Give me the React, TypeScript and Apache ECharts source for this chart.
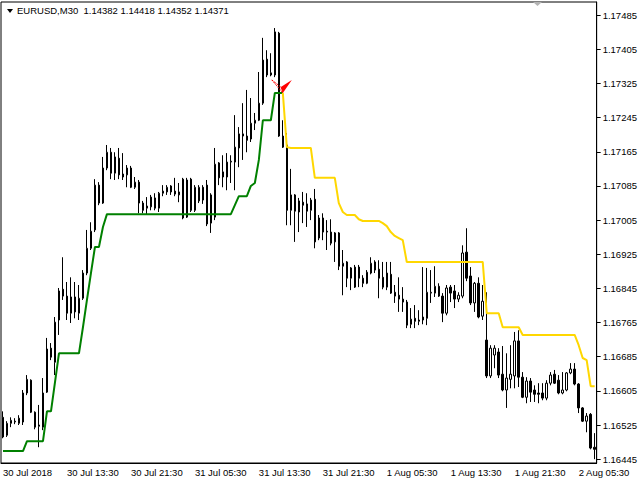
import React, { useEffect, useRef } from "react";
import * as echarts from "echarts";

// EURUSD M30, 30 Jul 2018 05:30 onward, one value per bar
const opens = [
  1.16543, 1.16501, 1.16529, 1.16532, 1.16529, 1.16532, 1.166, 1.1663, 1.16555, 1.16522,
  1.1652, 1.16602, 1.16705, 1.16672, 1.16771, 1.16843, 1.16827, 1.16787, 1.16825, 1.16787,
  1.16822, 1.16881, 1.16939, 1.16982, 1.17087, 1.17045, 1.17127, 1.17164, 1.17115, 1.1715,
  1.17113, 1.17111, 1.17127, 1.17082, 1.17094, 1.17045, 1.17033, 1.17036, 1.17057, 1.17033,
  1.17068, 1.17071, 1.17085, 1.17073, 1.17064, 1.17101, 1.17012, 1.17101, 1.17028, 1.1705,
  1.17082, 1.17087, 1.16998, 1.17012, 1.17139, 1.17106, 1.17106, 1.17141, 1.17141, 1.17174,
  1.17207, 1.17202, 1.17195, 1.17232, 1.17239, 1.17279, 1.17382, 1.17345, 1.17345, 1.17443,
  1.17202, 1.17181, 1.17028, 1.17064, 1.17024, 1.17047, 1.17043, 1.17028, 1.17054, 1.16963,
  1.1701, 1.16979, 1.16977, 1.16954, 1.16975, 1.16897, 1.16907, 1.16869, 1.16848, 1.16895,
  1.16869, 1.16857, 1.16881, 1.16907, 1.1689, 1.16871, 1.16848, 1.16878, 1.16836, 1.16829,
  1.1682, 1.16813, 1.16761, 1.16775, 1.16768, 1.16771, 1.16775, 1.16834, 1.16834, 1.1685,
  1.16827, 1.16787, 1.16848, 1.16839, 1.1682, 1.16827, 1.1693, 1.16874, 1.16811, 1.16857,
  1.1678, 1.16724, 1.1664, 1.16689, 1.16696, 1.16644, 1.16607, 1.16632, 1.1664, 1.16722,
  1.16637, 1.1659, 1.16628, 1.16607, 1.166, 1.166, 1.16588, 1.16623, 1.16644, 1.1663,
  1.166, 1.16607, 1.16647, 1.16656, 1.16621, 1.16565, 1.16534, 1.1655, 1.16473,
];

const closes = [
  1.16497, 1.16529, 1.16536, 1.16534, 1.16541, 1.166, 1.16632, 1.16555, 1.1652, 1.16525,
  1.166, 1.16703, 1.16684, 1.16766, 1.16839, 1.16827, 1.16787, 1.16825, 1.1679, 1.16822,
  1.16881, 1.16939, 1.16979, 1.17087, 1.17045, 1.17127, 1.17164, 1.17115, 1.17153, 1.17111,
  1.17106, 1.17127, 1.17082, 1.17094, 1.17045, 1.17028, 1.17038, 1.17059, 1.17033, 1.17068,
  1.17073, 1.17082, 1.17071, 1.17066, 1.17071, 1.1701, 1.17099, 1.17028, 1.17082, 1.17082,
  1.17052, 1.16996, 1.17064, 1.17136, 1.17104, 1.17118, 1.17141, 1.17143, 1.17176, 1.17207,
  1.17202, 1.17192, 1.17232, 1.17239, 1.17279, 1.1738, 1.17345, 1.1735, 1.17446, 1.17202,
  1.17176, 1.17028, 1.17064, 1.17026, 1.1705, 1.1704, 1.17026, 1.17052, 1.16954, 1.1701,
  1.16977, 1.16977, 1.16951, 1.16975, 1.16897, 1.16904, 1.16869, 1.16893, 1.16895, 1.16869,
  1.16857, 1.16883, 1.16904, 1.16888, 1.16869, 1.16848, 1.16881, 1.16834, 1.16827, 1.1682,
  1.16813, 1.16759, 1.16773, 1.16768, 1.16771, 1.16778, 1.16836, 1.16836, 1.1685, 1.16827,
  1.16787, 1.16846, 1.16834, 1.1682, 1.16829, 1.16928, 1.16869, 1.16811, 1.16857, 1.16778,
  1.16815, 1.1664, 1.16705, 1.16705, 1.16642, 1.16607, 1.16635, 1.16644, 1.16722, 1.16637,
  1.1659, 1.16628, 1.16602, 1.16597, 1.16597, 1.16588, 1.16623, 1.16642, 1.16623, 1.166,
  1.16607, 1.16647, 1.16656, 1.16621, 1.16565, 1.16534, 1.16546, 1.16471, 1.16468,
];

const lows = [
  1.16494, 1.16497, 1.1652, 1.16527, 1.16525, 1.16525, 1.16595, 1.16553, 1.16515, 1.16473,
  1.16513, 1.166, 1.16677, 1.16642, 1.16736, 1.16818, 1.16771, 1.16764, 1.16775, 1.16771,
  1.16818, 1.16876, 1.16935, 1.16977, 1.1704, 1.17043, 1.17122, 1.17101, 1.17099, 1.17101,
  1.17099, 1.17082, 1.1708, 1.17078, 1.17021, 1.17021, 1.17017, 1.17028, 1.17028, 1.17024,
  1.17061, 1.17064, 1.17064, 1.17061, 1.17047, 1.17007, 1.1701, 1.17024, 1.17024, 1.17045,
  1.17043, 1.16991, 1.16975, 1.17005, 1.17087, 1.17082, 1.17075, 1.17092, 1.17075, 1.17129,
  1.17146, 1.17164, 1.17188, 1.17216, 1.17237, 1.17275, 1.1734, 1.17342, 1.1734, 1.172,
  1.17174, 1.16993, 1.16993, 1.16954, 1.16977, 1.16998, 1.16989, 1.17005, 1.16939, 1.16958,
  1.16958, 1.16935, 1.16946, 1.16907, 1.16888, 1.16829, 1.16848, 1.16841, 1.16846, 1.16848,
  1.16848, 1.16855, 1.16878, 1.16881, 1.16822, 1.16843, 1.16841, 1.16832, 1.16811, 1.1679,
  1.1679, 1.16752, 1.16752, 1.16752, 1.16759, 1.16761, 1.16759, 1.16811, 1.16825, 1.16825,
  1.16766, 1.16782, 1.16813, 1.16799, 1.16813, 1.16822, 1.16862, 1.16806, 1.1679, 1.16775,
  1.16771, 1.16635, 1.16635, 1.16658, 1.16635, 1.16604, 1.16565, 1.16611, 1.16611, 1.16614,
  1.16588, 1.16576, 1.16579, 1.16579, 1.16576, 1.16583, 1.16583, 1.16618, 1.16621, 1.16597,
  1.16597, 1.16604, 1.16644, 1.16618, 1.16553, 1.16532, 1.16508, 1.16468, 1.16445,
];

const highs = [
  1.16557, 1.16534, 1.16543, 1.16541, 1.16548, 1.16607, 1.16642, 1.16632, 1.16557, 1.16572,
  1.16635, 1.16729, 1.16717, 1.16778, 1.16846, 1.16918, 1.1686, 1.16871, 1.1686, 1.16853,
  1.16888, 1.16982, 1.17, 1.17101, 1.17094, 1.17153, 1.17181, 1.17174, 1.17164, 1.17174,
  1.17162, 1.17134, 1.17132, 1.17106, 1.17099, 1.1705, 1.17059, 1.17064, 1.17068, 1.17071,
  1.17087, 1.17087, 1.17087, 1.17104, 1.17092, 1.17104, 1.17104, 1.17104, 1.17087, 1.17087,
  1.17087, 1.17099, 1.17068, 1.17174, 1.17141, 1.17157, 1.17162, 1.17157, 1.17251, 1.17223,
  1.17279, 1.1731, 1.17291, 1.17256, 1.17352, 1.17432, 1.17403, 1.17396, 1.17455, 1.17446,
  1.17239, 1.17209, 1.17125, 1.17066, 1.17057, 1.17071, 1.17068, 1.17057, 1.17078, 1.17017,
  1.17021, 1.17005, 1.17007, 1.16977, 1.16977, 1.16935, 1.16909, 1.16895, 1.169, 1.169,
  1.16876, 1.16888, 1.16918, 1.16911, 1.16911, 1.16907, 1.16907, 1.16907, 1.16853, 1.16871,
  1.16848, 1.16818, 1.16799, 1.16806, 1.16794, 1.16895, 1.16893, 1.16888, 1.16897, 1.16857,
  1.16834, 1.16853, 1.16853, 1.16853, 1.16836, 1.16946, 1.16986, 1.16895, 1.1686, 1.16871,
  1.16853, 1.16836, 1.16712, 1.16712, 1.16705, 1.1671, 1.16693, 1.16712, 1.16743, 1.16747,
  1.16649, 1.16637, 1.16635, 1.16618, 1.16623, 1.16623, 1.1663, 1.16649, 1.16654, 1.16642,
  1.16649, 1.16649, 1.1667, 1.1667, 1.16623, 1.16567, 1.16553, 1.16553, 1.16506,
];

// trailing stop lines: green from bar 0 to 70, yellow from bar 70 on
const greenStop = [
  1.16464, 1.16464, 1.16464, 1.16464, 1.16464, 1.16464, 1.16487, 1.16487, 1.16487, 1.16487,
  1.16487, 1.16557, 1.16557, 1.16625, 1.16693, 1.16693, 1.16693, 1.16693, 1.16693, 1.16693,
  1.16754, 1.16818, 1.16881, 1.16942, 1.16942, 1.16989, 1.17019, 1.17019, 1.17019, 1.17019,
  1.17019, 1.17019, 1.17019, 1.17019, 1.17019, 1.17019, 1.17019, 1.17019, 1.17019, 1.17019,
  1.17019, 1.17019, 1.17019, 1.17019, 1.17019, 1.17019, 1.17019, 1.17019, 1.17019, 1.17019,
  1.17019, 1.17019, 1.17019, 1.17019, 1.17019, 1.17019, 1.17019, 1.17019, 1.1704, 1.17061,
  1.17061, 1.17061, 1.17085, 1.17092, 1.17146, 1.17239, 1.17239, 1.17239, 1.17303, 1.17303,
  1.17303,
];
const yellowStart = 70;
const yellowStop = [
  1.17303, 1.17176, 1.17174, 1.17174, 1.17174, 1.17174, 1.17174, 1.17174, 1.17104, 1.17104,
  1.17104, 1.17104, 1.17104, 1.17104, 1.17045, 1.17024, 1.17017, 1.17017, 1.17017, 1.17007,
  1.17003, 1.17003, 1.17003, 1.17003, 1.17003, 1.16998, 1.16991, 1.16977, 1.16968, 1.16963,
  1.16958, 1.16907, 1.16907, 1.16907, 1.16907, 1.16907, 1.16907, 1.16907, 1.16907, 1.16907,
  1.16907, 1.16907, 1.16907, 1.16907, 1.16907, 1.16907, 1.16907, 1.16907, 1.16907, 1.16907,
  1.16907, 1.16787, 1.16787, 1.16787, 1.16787, 1.16754, 1.16754, 1.16754, 1.16754, 1.16754,
  1.16736, 1.16736, 1.16736, 1.16736, 1.16736, 1.16736, 1.16736, 1.16736, 1.16736, 1.16736,
  1.16736, 1.16736, 1.16736, 1.16736, 1.16712, 1.16682, 1.16677, 1.16616, 1.16616,
];

// sell arrow
const signalBar = 70;
const signalPrice = 1.17317;

const yTicks = [
  1.16445, 1.16525, 1.16605, 1.16685, 1.16765, 1.16845, 1.16925,
  1.17005, 1.17085, 1.17165, 1.17245, 1.17325, 1.17405, 1.17485,
];
const xTickLabels = [
  "30 Jul 2018", "30 Jul 13:30", "30 Jul 21:30", "31 Jul 05:30", "31 Jul 13:30",
  "31 Jul 21:30", "1 Aug 05:30", "1 Aug 13:30", "1 Aug 21:30", "2 Aug 05:30",
];
const barsPerLabel = 16;
const headerText = "EURUSD,M30  1.14382 1.14418 1.14352 1.14371";

const FONT = "'Liberation Sans', Arial, sans-serif";

const MONTHS = ["Jan", "Feb", "Mar", "Apr", "May", "Jun", "Jul", "Aug", "Sep", "Oct", "Nov", "Dec"];
const startTime = Date.UTC(2018, 6, 30, 5, 30);
const categories = opens.map((_, i) => {
  const d = new Date(startTime + i * 30 * 60 * 1000);
  const hh = String(d.getUTCHours()).padStart(2, "0");
  const mm = String(d.getUTCMinutes()).padStart(2, "0");
  return `${d.getUTCDate()} ${MONTHS[d.getUTCMonth()]} ${hh}:${mm}`;
});

const App: React.FC = () => {
  const chartRef = useRef<HTMLDivElement>(null);

  useEffect(() => {
    if (!chartRef.current) return;
    const chart = echarts.init(chartRef.current, null, { renderer: "svg" });

    const candles = opens.map((o, i) => [o, closes[i], lows[i], highs[i]]);
    const green = categories.map((_, i) => (i < greenStop.length ? greenStop[i] : null));
    const yellow = categories.map((_, i) =>
      i >= yellowStart ? yellowStop[i - yellowStart] : null
    );

    chart.setOption({
      animation: false,
      backgroundColor: "#ffffff",
      textStyle: { fontFamily: FONT },
      grid: {
        left: 1,
        top: 2,
        right: 43,
        bottom: 17,
        show: true,
        borderColor: "#000",
        borderWidth: 1,
      },
      xAxis: {
        type: "category",
        data: categories,
        boundaryGap: true,
        axisLine: { lineStyle: { color: "#000", width: 1 } },
        axisTick: {
          interval: barsPerLabel - 1,
          alignWithLabel: true,
          length: 4,
          lineStyle: { color: "#000" },
        },
        axisLabel: {
          interval: barsPerLabel - 1,
          align: "left",
          margin: 4,
          color: "#000",
          fontSize: 9.5,
          fontFamily: FONT,
          formatter: (_: string, idx: number) =>
            idx % barsPerLabel === 0 ? xTickLabels[idx / barsPerLabel] ?? "" : "",
        },
        splitLine: { show: false },
      },
      yAxis: {
        type: "value",
        position: "right",
        min: 1.16436,
        max: 1.17516,
        scale: true,
        axisLine: { show: true, lineStyle: { color: "#000", width: 1 } },
        axisTick: {
          show: true,
          length: 4,
          customValues: yTicks,
          lineStyle: { color: "#000" },
        },
        axisLabel: {
          customValues: yTicks,
          margin: 6,
          color: "#000",
          fontSize: 9.5,
          fontFamily: FONT,
          formatter: (v: number) => v.toFixed(5),
        },
        splitLine: { show: false },
      },
      graphic: [
        {
          type: "polygon",
          shape: { points: [[7, 9], [13, 9], [10, 13]] },
          style: { fill: "#000" },
        },
        {
          type: "text",
          left: 17,
          top: 5,
          style: { text: headerText, fill: "#000", font: `9.5px ${FONT}` },
        },
        {
          type: "polygon",
          shape: { points: [[533, 2], [542, 2], [537.5, 6]] },
          style: { fill: "#b4b4b4" },
        },
      ],
      series: [
        {
          type: "line",
          data: green,
          showSymbol: false,
          symbol: "none",
          lineStyle: { color: "#008000", width: 2 },
          z: 3,
        },
        {
          type: "line",
          data: yellow,
          showSymbol: false,
          symbol: "none",
          lineStyle: { color: "#ffd700", width: 2 },
          z: 3,
        },
        {
          type: "candlestick",
          data: candles,
          barWidth: 2,
          itemStyle: {
            color: "#ffffff",
            color0: "#000000",
            borderColor: "#000000",
            borderColor0: "#000000",
            borderWidth: 1,
          },
          z: 2,
        },
        {
          type: "custom",
          data: [[signalBar, signalPrice]],
          z: 5,
          renderItem: (_: any, api: any) => {
            const p = api.coord([api.value(0), api.value(1)]);
            return {
              type: "group",
              x: p[0],
              y: p[1],
              children: [
                {
                  type: "polygon",
                  shape: { points: [[-11, -7], [-2, 0], [0, 6]] },
                  style: { fill: "none", stroke: "#ff0000", lineWidth: 1, lineDash: [2, 1] },
                },
                {
                  type: "polygon",
                  shape: { points: [[-2, 0], [9, -7], [0, 6]] },
                  style: { fill: "#ff0000" },
                },
              ],
            };
          },
        },
      ],
    });

    return () => {
      chart.dispose();
    };
  }, []);

  return (
    <div
      ref={chartRef}
      style={{ position: "fixed", left: 0, top: 0, width: "640px", height: "480px" }}
    />
  );
};

export default App;
